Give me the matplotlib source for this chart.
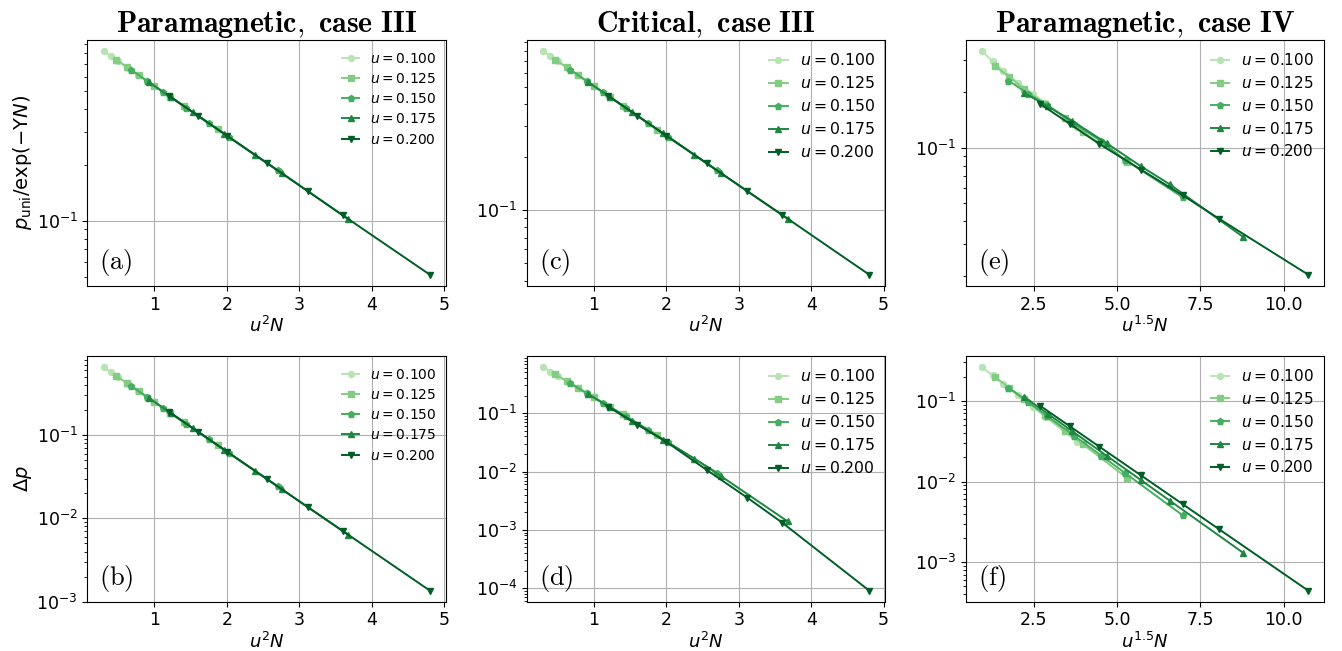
import matplotlib
matplotlib.use("Agg")
import matplotlib.pyplot as plt
import numpy as np

# ---------------- data ----------------
u_labels = ["0.100", "0.125", "0.150", "0.175", "0.200"]
markers = ["o", "s", "p", "^", "v"]

# x = u^2 N
x_u2 = [
    [0.30, 0.40, 0.50, 0.64, 0.78, 0.90, 1.20],
    [0.469, 0.625, 0.781, 1.00, 1.219, 1.406, 1.875],
    [0.675, 0.90, 1.125, 1.44, 1.755, 2.025, 2.70],
    [0.919, 1.225, 1.531, 1.96, 2.389, 2.756, 3.675],
    [1.20, 1.60, 2.00, 2.56, 3.12, 3.60, 4.80],
]
# x = u^1.5 N
x_u15 = [
    [0.949, 1.265, 1.581, 2.024, 2.467, 2.846, 3.795],
    [1.326, 1.768, 2.210, 2.828, 3.447, 3.977, 5.303],
    [1.743, 2.324, 2.905, 3.718, 4.531, 5.229, 6.971],
    [2.196, 2.928, 3.660, 4.685, 5.710, 6.589, 8.785],
    [2.683, 3.578, 4.472, 5.724, 6.977, 8.050, 10.733],
]

# (a) Paramagnetic, case III : p_uni / exp(-Upsilon N)
y_a = [
    [0.822, 0.773, 0.726, 0.667, 0.611, 0.568, 0.472],
    [0.741, 0.673, 0.611, 0.534, 0.467, 0.416, 0.311],
    [0.652, 0.568, 0.494, 0.407, 0.335, 0.284, 0.187],
    [0.561, 0.465, 0.385, 0.295, 0.226, 0.181, 0.102],
    [0.472, 0.369, 0.288, 0.204, 0.144, 0.107, 0.0512],
]
# (b) Paramagnetic, case III : Delta p
y_b = [
    [0.655, 0.570, 0.498, 0.410, 0.339, 0.287, 0.190],
    [0.519, 0.419, 0.338, 0.251, 0.185, 0.143, 0.0753],
    [0.391, 0.287, 0.211, 0.137, 0.0887, 0.0612, 0.0243],
    [0.280, 0.184, 0.121, 0.0670, 0.0372, 0.0224, 0.00635],
    [0.190, 0.110, 0.0634, 0.0294, 0.0136, 0.00705, 0.00136],
]
# (c) Critical, case III : p_uni / exp(-Upsilon N)
y_c = [
    [0.794, 0.745, 0.698, 0.637, 0.582, 0.539, 0.444],
    [0.712, 0.644, 0.582, 0.505, 0.438, 0.388, 0.286],
    [0.624, 0.539, 0.466, 0.380, 0.310, 0.260, 0.168],
    [0.532, 0.437, 0.358, 0.272, 0.206, 0.162, 0.0895],
    [0.444, 0.343, 0.264, 0.184, 0.128, 0.094, 0.0432],
]
# (d) Critical, case III : Delta p
y_d = [
    [0.617, 0.519, 0.437, 0.347, 0.272, 0.221, 0.132],
    [0.462, 0.355, 0.272, 0.188, 0.130, 0.0955, 0.0427],
    [0.327, 0.221, 0.151, 0.0891, 0.0513, 0.0316, 0.00955],
    [0.214, 0.126, 0.0741, 0.0351, 0.0166, 0.00832, 0.00140],
    [0.129, 0.0638, 0.0324, 0.0106, 0.00355, 0.00133, 0.000091],
]
# (e) Paramagnetic, case IV : p_uni / exp(-Upsilon N)
y_e = [
    [0.335, 0.295, 0.263, 0.226, 0.197, 0.176, 0.130],
    [0.279, 0.243, 0.209, 0.174, 0.146, 0.1216, 0.0841],
    [0.232, 0.197, 0.170, 0.135, 0.1084, 0.0861, 0.0537],
    [0.1995, 0.168, 0.1396, 0.1059, 0.0794, 0.0631, 0.0327],
    [0.1738, 0.1349, 0.1047, 0.0759, 0.0550, 0.0412, 0.0204],
]
# (f) Paramagnetic, case IV : Delta p
y_f = [
    [0.262, 0.207, 0.163, 0.1175, 0.0843, 0.0635, 0.0313],
    [0.1995, 0.1445, 0.105, 0.0668, 0.0427, 0.0290, 0.01104],
    [0.1462, 0.0975, 0.0650, 0.0369, 0.0209, 0.01285, 0.00381],
    [0.1130, 0.0689, 0.0420, 0.0209, 0.01047, 0.00577, 0.001306],
    [0.0875, 0.0486, 0.0270, 0.01189, 0.00522, 0.00258, 0.000445],
]

titles = ["Paramagnetic, case III", "Critical, case III", "Paramagnetic, case IV"]
xlabels = [r"$u^2N$", r"$u^2N$", r"$u^{1.5}N$"]
ylabels = [r"$p_{\mathrm{uni}}/\exp(-\Upsilon N)$", r"$\Delta p$"]
panel_letters = [["(a)", "(c)", "(e)"], ["(b)", "(d)", "(f)"]]

# ---------------- figure ----------------
fig = plt.figure(figsize=(13.42, 6.51), dpi=100)
colors = plt.cm.Greens(np.linspace(0.3, 0.92, 5))

lefts = [0.0651, 0.3925, 0.7196]
width = 0.2673
bottoms = [0.561, 0.0757]
height = 0.3775
legend_fs = [10, 11.3, 11]

data = [[(x_u2, y_a), (x_u2, y_c), (x_u15, y_e)],
        [(x_u2, y_b), (x_u2, y_d), (x_u15, y_f)]]

for r in range(2):
    for c in range(3):
        ax = fig.add_axes([lefts[c], bottoms[r], width, height])
        xs, ys = data[r][c]
        for i in range(5):
            ax.plot(xs[i], ys[i], marker=markers[i], color=colors[i],
                    markersize=4.3 if markers[i] != "p" else 4.8, lw=1.4,
                    label=r"$u = %s$" % u_labels[i])
        ax.set_yscale("log")
        ax.grid(True, which="major", color="#b0b0b0", lw=0.8)
        ax.tick_params(labelsize=12.5)
        ax.set_xlabel(xlabels[c], fontsize=13, labelpad=2)
        if c == 0:
            ax.set_ylabel(ylabels[r], fontsize=14, labelpad=2)
        if r == 0:
            ax.set_title(r"$\mathbf{%s}$" % titles[c].replace(" ", r"\ "),
                         fontsize=21.5, math_fontfamily="cm", pad=5)
        ax.legend(loc="upper right", bbox_to_anchor=(0.985, 0.97),
                  frameon=False, fontsize=legend_fs[c],
                  handlelength=1.2, handletextpad=0.8, labelspacing=0.45,
                  borderaxespad=0.0, borderpad=0.3)
        ax.text(0.033, 0.03, r"$\mathrm{%s}$" % panel_letters[r][c],
                transform=ax.transAxes, ha="left", va="bottom",
                fontsize=19, math_fontfamily="cm")
        if c == 2:
            ax.set_xticks([2.5, 5.0, 7.5, 10.0])

fig.savefig("out.png", dpi=100)
